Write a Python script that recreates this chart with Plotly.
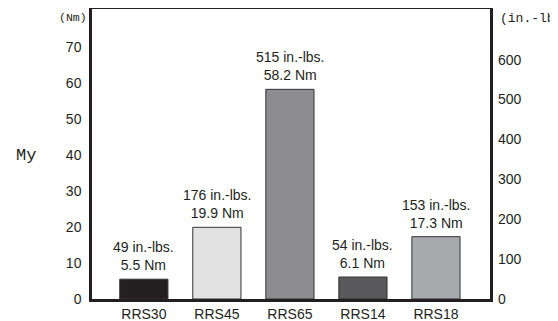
import plotly.graph_objects as go

models = ["RRS30", "RRS45", "RRS65", "RRS14", "RRS18"]
torque_nm = [5.5, 19.9, 58.2, 6.1, 17.3]
torque_inlbs = [49, 176, 515, 54, 153]
bar_colors = ["#231f20", "#e2e2e3", "#8d8d8f", "#59595b", "#a8a9ab"]
left_ticks = [0, 10, 20, 30, 40, 50, 60, 70]
right_ticks = [0, 100, 200, 300, 400, 500, 600]

TXT = "#231f20"
SANS = "Liberation Sans, Arial, sans-serif"
MONO = "Liberation Mono, Courier New, monospace"
FS = 14

# page is rendered with an 8px body margin; work in page pixels, then offset
OFF = 8
W, H = 558 - OFF, 321 - OFF
PL, PR, PT, PB = 92, 490, 9, 299          # plot-area edges in page pixels
L, R, T, B = PL - OFF, W - (PR - OFF), PT - OFF, H - (PB - OFF)
PW, PH = W - L - R, H - T - B

def paper(x, y):
    return (x - OFF - L) / PW, (H - B - (y - OFF)) / PH

fig = go.Figure()
fig.add_trace(go.Bar(
    x=models, y=torque_nm, width=0.66,
    marker=dict(color=bar_colors, line=dict(color="#333333", width=1)),
    hoverinfo="skip", showlegend=False,
))
fig.add_trace(go.Scatter(
    x=models, y=torque_inlbs, yaxis="y2", mode="markers",
    marker=dict(opacity=0), hoverinfo="skip", showlegend=False,
))

for m, nm, ib in zip(models, torque_nm, torque_inlbs):
    fig.add_annotation(
        x=m, y=nm, xref="x", yref="y", yanchor="bottom", yshift=4,
        text=f"{ib} in.-lbs.<br>{nm} Nm", showarrow=False,
        font=dict(family=SANS, size=FS, color=TXT),
    )

for text, x, y, size, anchor in [("My", 26, 155, 17, "center"),
                                 ("(Nm)", 73, 18, 11.5, "center"),
                                 ("(in.-lbs.)", 498, 19, 13, "left")]:
    xp, yp = paper(x, y)
    fig.add_annotation(x=xp, y=yp, xref="paper", yref="paper", showarrow=False,
                       xanchor=anchor, yanchor="middle", text=text,
                       font=dict(family=MONO, size=size, color=TXT))

fig.update_layout(
    width=W, height=H,
    margin=dict(l=L, r=R, t=T, b=B, autoexpand=False),
    paper_bgcolor="white", plot_bgcolor="white",
    barmode="overlay",
    xaxis=dict(type="category", range=[-0.71, 4.74], showgrid=False, automargin=False,
               showline=True, linewidth=2.5, linecolor="#231f20", mirror=True,
               ticks="", ticklabelstandoff=0,
               tickfont=dict(family=SANS, size=FS, color=TXT)),
    yaxis=dict(range=[0, 80.5], tickvals=left_ticks, showgrid=False, zeroline=False,
               automargin=False,
               showline=True, linewidth=2.5, linecolor="#231f20", mirror=True,
               ticks="", ticklabelstandoff=5,
               tickfont=dict(family=SANS, size=FS, color=TXT)),
    yaxis2=dict(range=[0, 727], tickvals=right_ticks, overlaying="y", side="right",
                showgrid=False, zeroline=False, showline=False, ticks="",
                automargin=False, ticklabelstandoff=7,
                tickfont=dict(family=SANS, size=FS, color=TXT)),
)

fig.write_html("out.html")
